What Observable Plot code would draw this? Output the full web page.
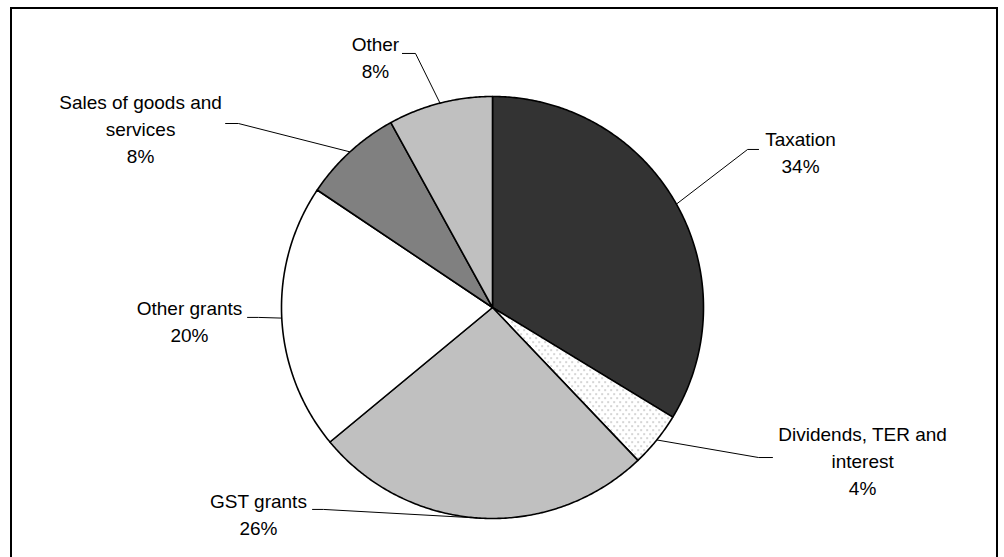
<!DOCTYPE html>
<html>
<head>
<meta charset="utf-8">
<script src="https://cdn.jsdelivr.net/npm/d3@7"></script>
<script src="https://cdn.jsdelivr.net/npm/@observablehq/plot@0.6"></script>
<style>
  html, body { margin: 0; padding: 0; background: #fff; overflow: hidden; }
  #wrap { position: relative; width: 1004px; height: 557px; }
  #frame { position: absolute; left: 10px; top: 7px; width: 984px; height: 600px;
           border: 2px solid #000; border-bottom: none; pointer-events: none; }
</style>
</head>
<body>
<div id="wrap"><div id="frame"></div></div>
<script>
// ---- data ----
const categories = ["Taxation", "Dividends, TER and interest", "GST grants", "Other grants", "Sales of goods and services", "Other"];
const labelText = ["Taxation", "Dividends, TER and\ninterest", "GST grants", "Other grants", "Sales of goods and\nservices", "Other"];
const shares = [33.7, 4.2, 26.1, 20.4, 7.6, 8.0];
const colors = ["#333333", "url(#dots)", "#c0c0c0", "#ffffff", "#808080", "#c0c0c0"];

// ---- layout (pie-radius units, centre = 0,0) ----
const labelPos = [[1.460, 0.855], [1.754, -0.543], [-1.109, -0.860], [-1.436, 0.055], [-1.668, 1.031], [-0.555, 1.306]];
const leaderStart = [[1.261, 0.749], [1.327, -0.711], [-0.853, -0.957], [-1.161, -0.047], [-1.265, 0.872], [-0.427, 1.204]];
const leaderElbow = [[1.209, 0.749], [1.261, -0.711], [-0.801, -0.957], [-1.109, -0.047], [-1.204, 0.872], [-0.365, 1.204]];

const arcs = d3.pie().sort(null).value(d => d)(shares);

// slice polygons
const slicePts = [];
arcs.forEach((a, i) => {
  const key = categories[i];
  slicePts.push({key, x: 0, y: 0});
  const n = Math.max(2, Math.ceil((a.endAngle - a.startAngle) / (Math.PI / 360)));
  for (let k = 0; k <= n; k++) {
    const t = a.startAngle + (a.endAngle - a.startAngle) * k / n;
    slicePts.push({key, x: Math.sin(t), y: Math.cos(t)});
  }
  slicePts.push({key, x: 0, y: 0});
});

// leader lines
const leaderPts = [];
arcs.forEach((a, i) => {
  const key = categories[i];
  const m = (a.startAngle + a.endAngle) / 2;
  leaderPts.push({key, x: leaderStart[i][0], y: leaderStart[i][1]});
  leaderPts.push({key, x: leaderElbow[i][0], y: leaderElbow[i][1]});
  leaderPts.push({key, x: Math.sin(m), y: Math.cos(m)});
});

const labels = categories.map((c, i) => ({
  key: c,
  x: labelPos[i][0],
  y: labelPos[i][1],
  text: labelText[i] + "\n" + Math.round(shares[i]) + "%"
}));

const chart = Plot.plot({
  width: 1004,
  height: 557,
  margin: 0,
  style: {background: "transparent", fontFamily: "'Liberation Sans', Arial, sans-serif"},
  x: {domain: [-1, 1], range: [281, 703], axis: null},
  y: {domain: [-1, 1], range: [518, 96], axis: null},
  color: {type: "ordinal", domain: categories, range: colors},
  marks: [
    Plot.line(leaderPts, {x: "x", y: "y", z: "key", stroke: "#000", strokeWidth: 1}),
    Plot.line(slicePts, {x: "x", y: "y", z: "key", fill: "key", stroke: "#000", strokeWidth: 1.6, strokeLinejoin: "round"}),
    Plot.text(labels, {x: "x", y: "y", text: "text", fill: "#000", fontSize: 19, lineHeight: 1.42, lineAnchor: "top", textAnchor: "middle"})
  ]
});

// dotted pattern for the small slice
const ns = "http://www.w3.org/2000/svg";
const defs = document.createElementNS(ns, "defs");
const pat = document.createElementNS(ns, "pattern");
pat.setAttribute("id", "dots");
pat.setAttribute("width", "6");
pat.setAttribute("height", "8");
pat.setAttribute("patternUnits", "userSpaceOnUse");
const bg = document.createElementNS(ns, "rect");
bg.setAttribute("width", "6"); bg.setAttribute("height", "8"); bg.setAttribute("fill", "#fff");
pat.appendChild(bg);
[[1, 1], [4, 5]].forEach(([px, py]) => {
  const r = document.createElementNS(ns, "rect");
  r.setAttribute("x", px); r.setAttribute("y", py);
  r.setAttribute("width", "1.2"); r.setAttribute("height", "1.2");
  r.setAttribute("fill", "#8a8a8a");
  pat.appendChild(r);
});
defs.appendChild(pat);
chart.insertBefore(defs, chart.firstChild);
chart.style.position = "absolute";
chart.style.left = "0";
chart.style.top = "0";

document.getElementById("wrap").appendChild(chart);
</script>
</body>
</html>
